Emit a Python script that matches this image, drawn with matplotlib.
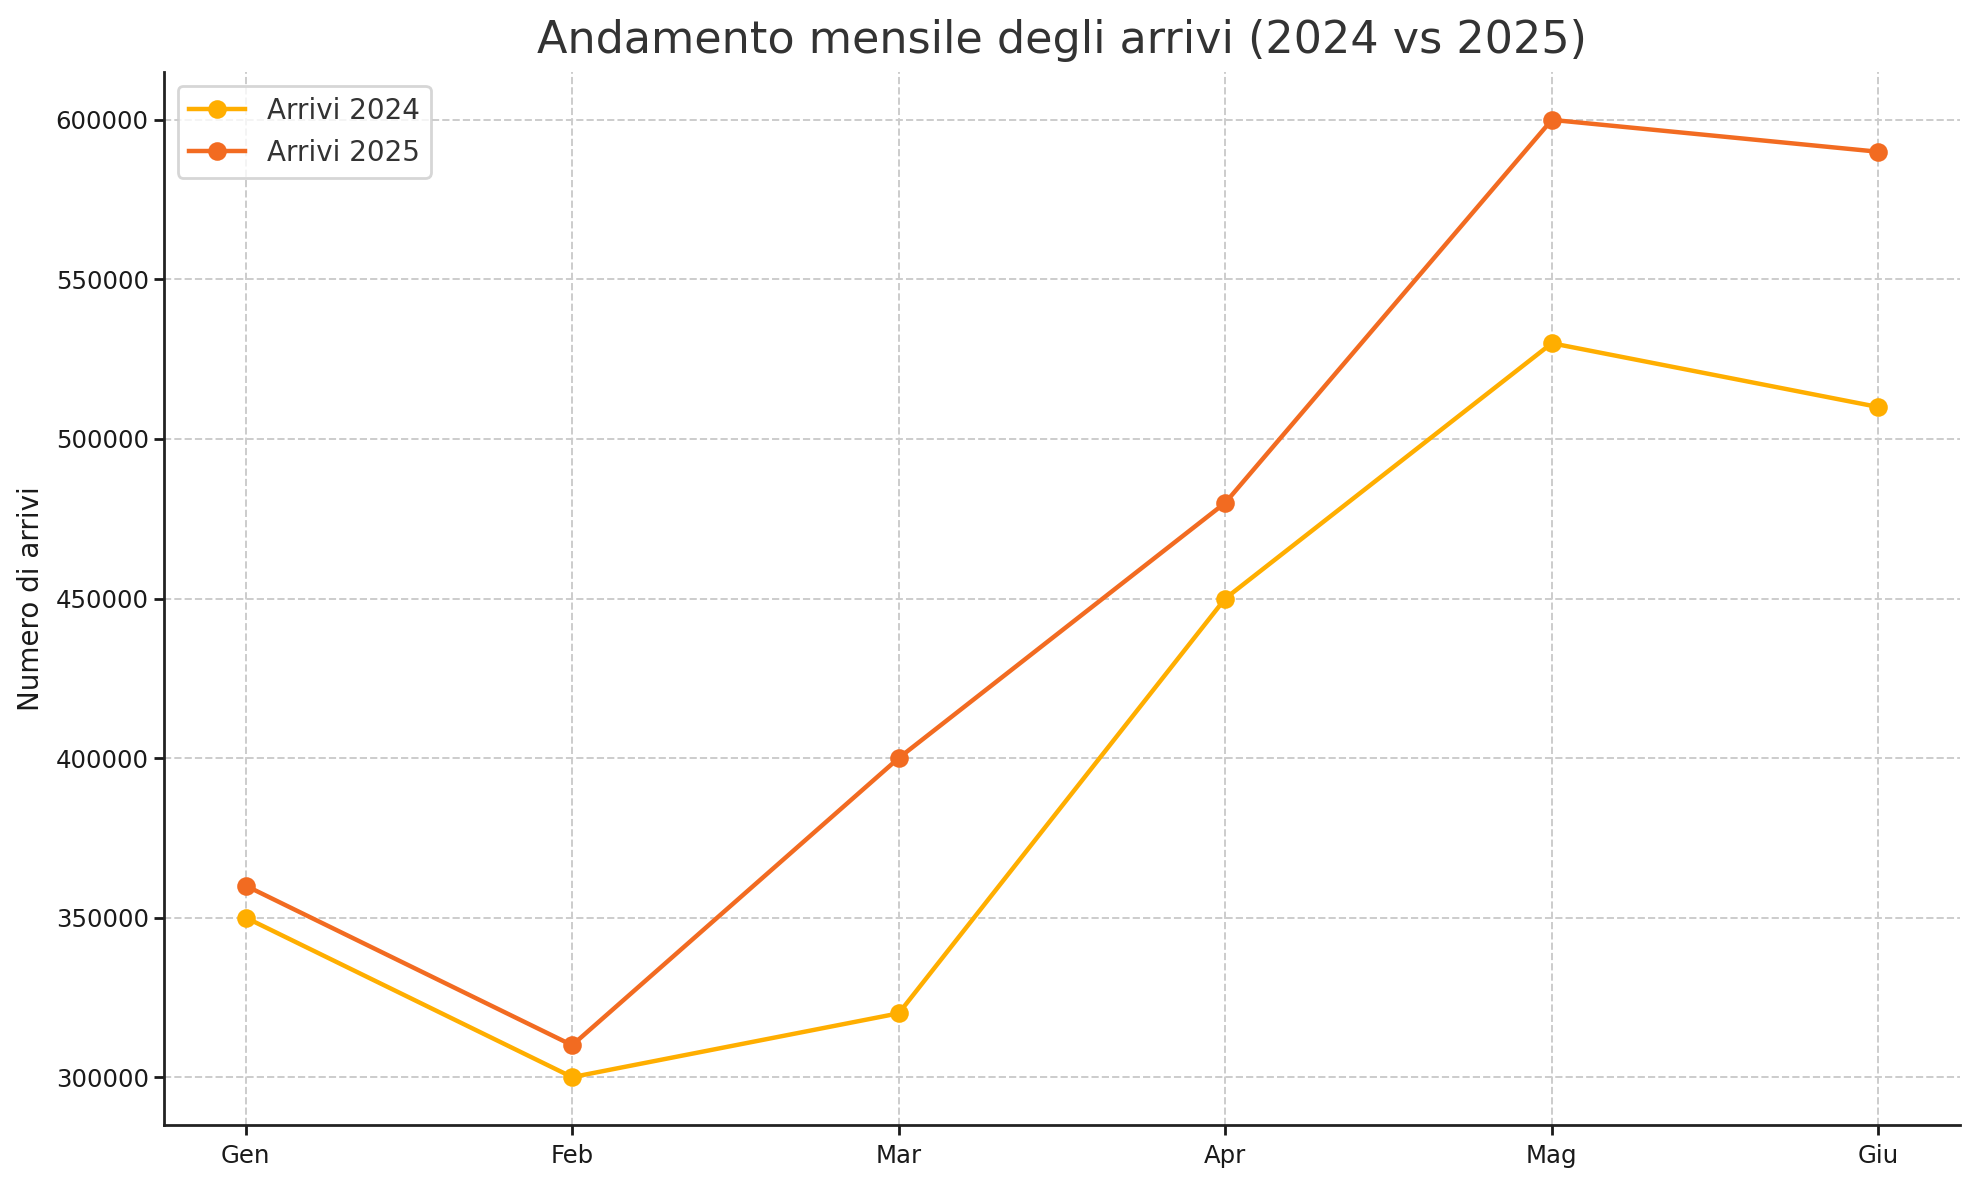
import matplotlib
matplotlib.use("Agg")
import matplotlib.pyplot as plt

mesi = ["Gen", "Feb", "Mar", "Apr", "Mag", "Giu"]
arrivi_2024 = [350000, 300000, 320000, 450000, 530000, 510000]
arrivi_2025 = [360000, 310000, 400000, 480000, 600000, 590000]

plt.rcParams['font.family'] = ['DejaVu Sans']

fig = plt.figure(figsize=(9.9, 5.9), dpi=200)
ax = fig.add_axes([164/1980, 1 - 1125/1180, (1960-164)/1980, (1125-72)/1180])

ax.plot(mesi, arrivi_2024, marker='o', color='#FFAE00', lw=1.6, ms=5.7, label='Arrivi 2024')
ax.plot(mesi, arrivi_2025, marker='o', color='#F26B21', lw=1.6, ms=5.7, label='Arrivi 2025')

ax.set_title("Andamento mensile degli arrivi (2024 vs 2025)", fontsize=16, color='#333333', pad=7)
ax.set_ylabel("Numero di arrivi", fontsize=10, color='#1a1a1a')
ax.tick_params(labelsize=8.8, colors='#1a1a1a', length=3.5, width=1)
ax.tick_params(axis='y', pad=2.0)
ax.grid(True, linestyle='--', color='#cccccc', linewidth=0.7)
ax.set_axisbelow(True)
for s in ['top', 'right']:
    ax.spines[s].set_visible(False)
for s in ['left', 'bottom']:
    ax.spines[s].set_color('#222222')
    ax.spines[s].set_linewidth(1.0)

leg = ax.legend(loc='upper left', fontsize=10, frameon=True, labelcolor='#333333')
leg.get_frame().set_edgecolor('#cccccc')

fig.savefig("out.png", dpi=200)
